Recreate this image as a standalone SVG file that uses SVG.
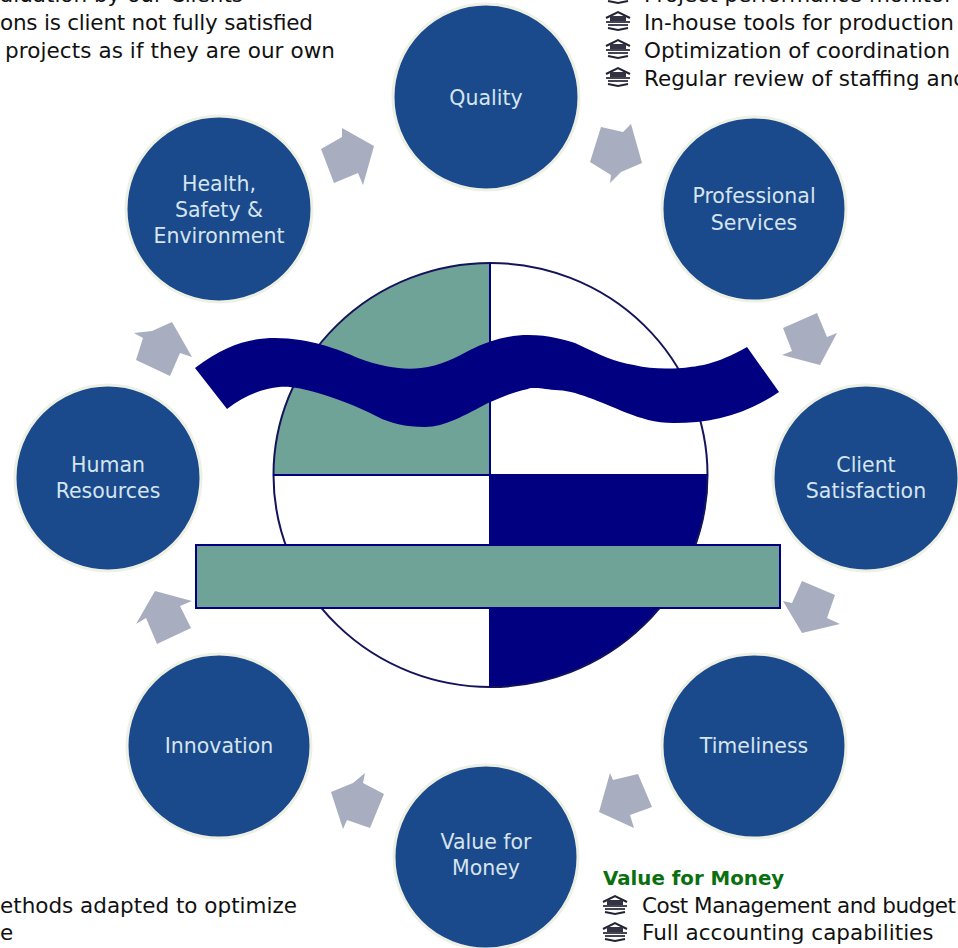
<svg xmlns="http://www.w3.org/2000/svg" width="958" height="948" viewBox="0 0 958 948">
<style>
.n{fill:#1a4a8c;stroke:#eef0e4;stroke-width:3}
.l{font:20.500px "DejaVu Sans",sans-serif;fill:#d6e4ee;text-anchor:middle}
.t{font:21.500px "DejaVu Sans",sans-serif;fill:#111}
.a{fill:#a8aebf}
</style>
<defs>
<g id="b">
<path d="M0 -3L12 -9L24 -3" fill="none" stroke="#223" stroke-width="2"/>
<rect x="4" y="-5" width="16" height="5" fill="#334"/>
<path d="M0 1H24M2 4H22" stroke="#445" stroke-width="2"/>
<path d="M2 7L12 9L22 7" fill="none" stroke="#223" stroke-width="2"/>
</g>
</defs>
<rect width="958" height="948" fill="#fff"/>
<g id="connectors" class="a">
<path d="M321 149L342 137L342 128L374 146L363 185L358 173L334 183Z"/>
<path d="M590 162L601 127L623 132L631 124L642 163L621 172L610 183L611 175Z"/>
<path d="M783 328L817 313L827 337L837 333L820 365L782 355L792 351Z"/>
<path d="M783 601L792 603L802 581L835 595L827 618L840 624L802 633Z"/>
<path d="M610 773L613 780L638 774L652 807L630 815L634 828L599 812Z"/>
<path d="M365 773L363 783L384 794L370 828L347 820L343 829L331 792L353 783Z"/>
<path d="M136 624L155 591L192 601L180 606L191 628L157 644L146 618Z"/>
<path d="M134 333L152 331L172 322L192 357L180 353L170 376L136 360L143 338Z"/>
</g>
<g id="emblem">
<path d="M490 263A217 212 0 0 0 273 475H490Z" fill="#70a398"/>
<path d="M490 475H708A217 212 0 0 1 490 687Z" fill="#000080"/>
<ellipse cx="490.500" cy="475" rx="217" ry="212" fill="none" stroke="#14145a" stroke-width="2"/>
<path d="M490 263V687M273 475H708" stroke="#000080" stroke-width="2" fill="none"/>
<path d="M195 368C225 345 250 338 275 338C310 338 340 350 358 358C385 368 405 370 421 368C440 366 455 358 470 350C490 340 510 335 528 335C550 335 565 340 575 343C600 355 615 362 634 365C650 369 665 369 682 368C700 366 715 365 747 347L779 392C745 415 710 423 674 423C655 423 640 418 627 413C600 402 575 390 555 390C540 388 530 387 528 389C510 393 500 398 488 403C465 415 445 427 425 427C405 427 390 423 378 417C355 405 335 398 318 393C300 388 290 386 279 387C265 388 245 395 227 409Z" fill="#000080"/>
<rect x="196" y="545" width="584" height="63" fill="#70a398" stroke="#000080" stroke-width="2"/>
</g>
<g id="quality"><circle class="n" cx="486" cy="97" r="93"/><text class="l" x="486" y="105">Quality</text></g>
<g id="professional-services"><circle class="n" cx="754" cy="209" r="92"/><text class="l" x="754" y="203">Professional</text><text class="l" x="754" y="230">Services</text></g>
<g id="client-satisfaction"><circle class="n" cx="866" cy="478" r="93"/><text class="l" x="866" y="472">Client</text><text class="l" x="866" y="498">Satisfaction</text></g>
<g id="timeliness"><circle class="n" cx="754" cy="746" r="92"/><text class="l" x="754" y="753">Timeliness</text></g>
<g id="value-for-money"><circle class="n" cx="486" cy="857" r="92"/><text class="l" x="486" y="849">Value for</text><text class="l" x="486" y="875">Money</text></g>
<g id="innovation"><circle class="n" cx="219" cy="746" r="92"/><text class="l" x="219" y="753">Innovation</text></g>
<g id="human-resources"><circle class="n" cx="108" cy="478" r="93"/><text class="l" x="108" y="472">Human</text><text class="l" x="108" y="498">Resources</text></g>
<g id="health-safety-environment"><circle class="n" cx="219" cy="209" r="93"/><text class="l" x="219" y="191">Health,</text><text class="l" x="219" y="217">Safety &amp;</text><text class="l" x="219" y="243">Environment</text></g>
<g id="notes">
<text class="t" x="0" y="2">aluation by our Clients</text>
<text class="t" x="0" y="30" textLength="313">ons is client not fully satisfied</text>
<text class="t" x="5" y="58" textLength="330">projects as if they are our own</text>
<use href="#b" x="606" y="-6"/><use href="#b" x="606" y="21"/><use href="#b" x="606" y="49"/><use href="#b" x="606" y="77"/>
<text class="t" x="644" y="2">Project performance monitor</text>
<text class="t" x="644" y="30">In-house tools for production</text>
<text class="t" x="644" y="58">Optimization of coordination</text>
<text class="t" x="644" y="86">Regular review of staffing and</text>
<text x="603" y="885" style="font:bold 19.800px 'DejaVu Sans',sans-serif;fill:#0a700f">Value for Money</text>
<use href="#b" x="603" y="905"/><use href="#b" x="603" y="932"/>
<text class="t" x="642" y="913" textLength="314">Cost Management and budget</text>
<text class="t" x="642" y="940">Full accounting capabilities</text>
<text class="t" x="0" y="913">ethods adapted to optimize</text>
<text class="t" x="0" y="940">e</text>
</g>
</svg>
